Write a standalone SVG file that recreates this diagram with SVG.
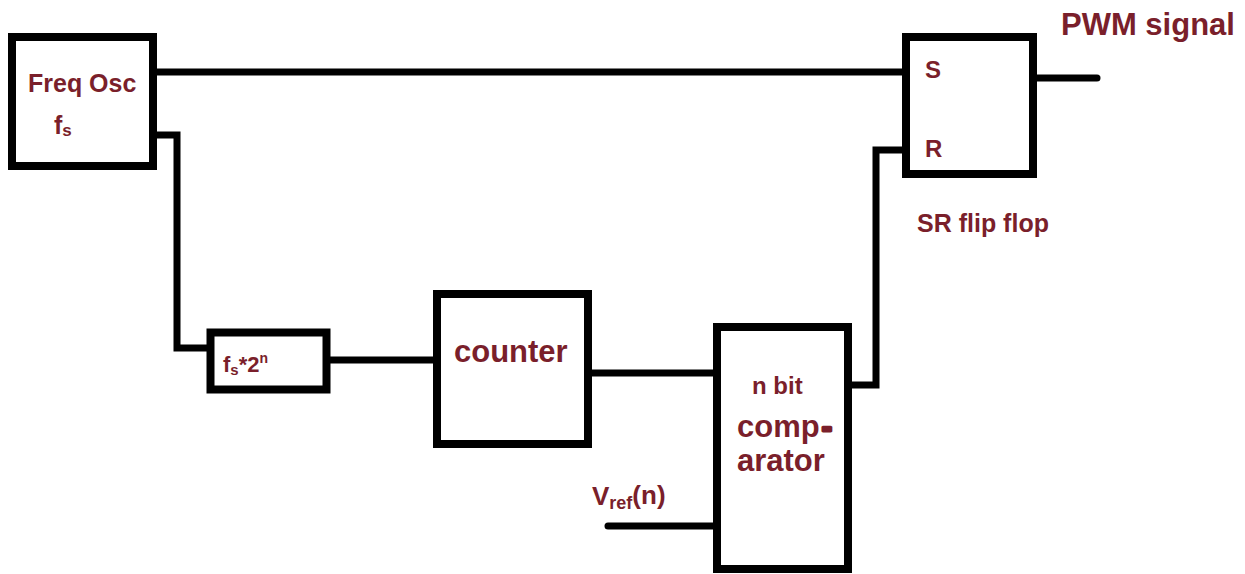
<svg xmlns="http://www.w3.org/2000/svg" width="1245" height="574" viewBox="0 0 1245 574">
<style>
.box{fill:#fff;stroke:#000;stroke-width:8}
.wire{fill:none;stroke:#000;stroke-width:7;stroke-linejoin:miter}
.lbl{font-family:"Liberation Sans",Arial,sans-serif;font-weight:bold;fill:#7a1f2b}
</style>
<rect width="1245" height="574" fill="#fff"/>
<g id="connectors">
<path class="wire" d="M157 72 H905"/>
<path class="wire" d="M157 135 H177 V348 H207"/>
<path class="wire" d="M330 360 H433"/>
<path class="wire" d="M592 373 H713"/>
<path class="wire" d="M852 385 H876 V150 H905"/>
<path class="wire" d="M608 526 H713" stroke-linecap="round"/>
<path class="wire" d="M1037 78 H1097" stroke-linecap="round"/>
</g>
<g id="osc">
<rect class="box" x="12" y="37" width="141" height="129"/>
<text class="lbl" x="28" y="92" font-size="25">Freq Osc</text>
<text class="lbl" x="54" y="134" font-size="25">f<tspan font-size="17" dy="2">s</tspan></text>
</g>
<g id="mult">
<rect class="box" x="210.5" y="332.5" width="116" height="57" stroke-width="7"/>
<text class="lbl" x="223" y="372" font-size="22">f<tspan font-size="15" dy="3">s</tspan><tspan dy="-3">*2</tspan><tspan font-size="14" dy="-9">n</tspan></text>
</g>
<g id="counter">
<rect class="box" x="437" y="294" width="151" height="150"/>
<text class="lbl" x="454" y="362" font-size="31">counter</text>
</g>
<g id="comparator">
<rect class="box" x="717" y="327" width="131" height="242"/>
<text class="lbl" x="752" y="394" font-size="24">n bit</text>
<text class="lbl" x="737" y="437" font-size="31">comp<tspan stroke="#7a1f2b" stroke-width="3" stroke-linejoin="round" dx="2">-</tspan></text>
<text class="lbl" x="737" y="471" font-size="31">arator</text>
</g>
<g id="vref">
<text class="lbl" x="592" y="505" font-size="26">V<tspan font-size="18" dy="4">ref</tspan><tspan dy="-5">(n)</tspan></text>
</g>
<g id="srff">
<rect class="box" x="906" y="37" width="127" height="137"/>
<text class="lbl" x="925" y="78" font-size="24">S</text>
<text class="lbl" x="925" y="157" font-size="24">R</text>
<text class="lbl" x="917" y="232" font-size="25">SR flip flop</text>
</g>
<g id="pwm">
<text class="lbl" x="1061" y="35" font-size="31">PWM signal</text>
</g>
</svg>
